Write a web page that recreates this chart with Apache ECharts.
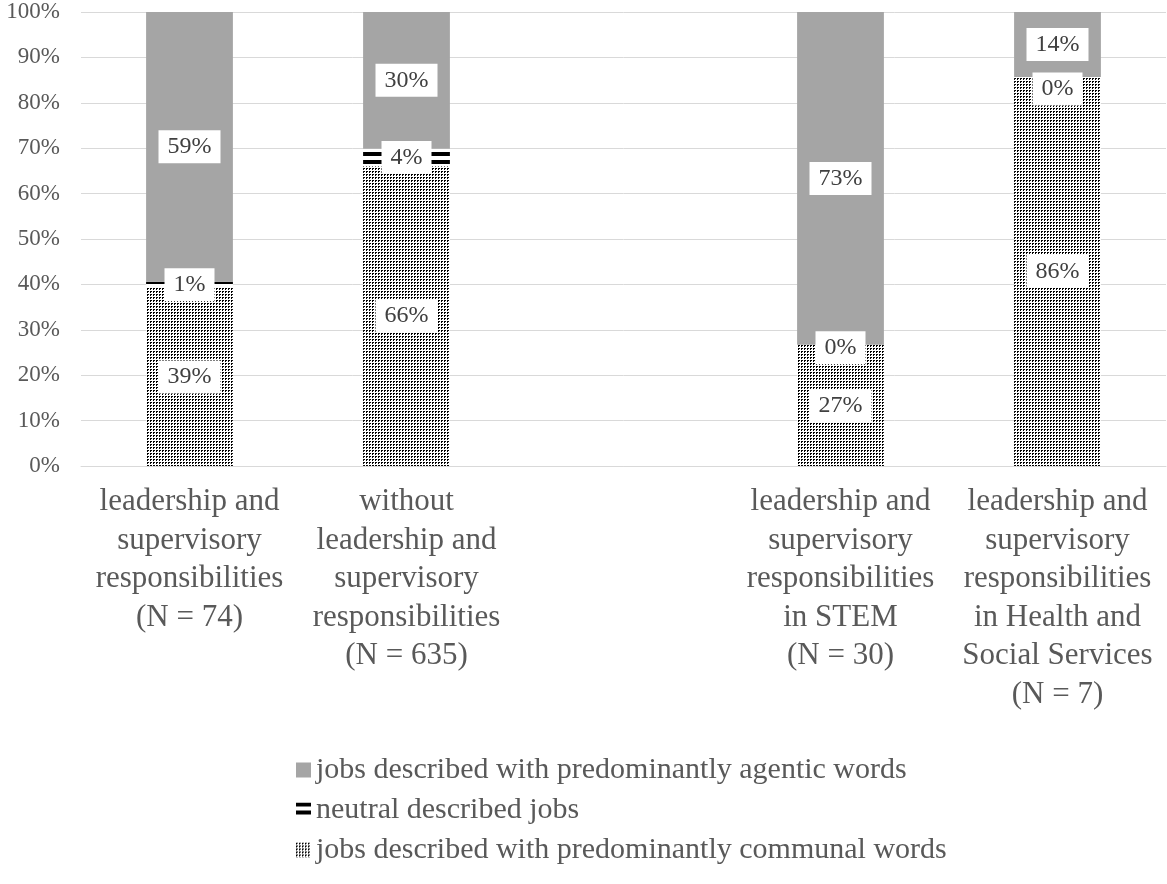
<!DOCTYPE html>
<html>
<head>
<meta charset="utf-8">
<script src="https://cdn.jsdelivr.net/npm/echarts@6/dist/echarts.min.js"></script>
<style>
html,body{margin:0;padding:0;background:#fff;}
#chart{width:1167px;height:884px;}
</style>
</head>
<body>
<div id="chart"></div>
<script>
var categories = [
  "leadership and\nsupervisory\nresponsibilities\n(N = 74)",
  "without\nleadership and\nsupervisory\nresponsibilities\n(N = 635)",
  "",
  "leadership and\nsupervisory\nresponsibilities\nin STEM\n(N = 30)",
  "leadership and\nsupervisory\nresponsibilities\nin Health and\nSocial Services\n(N = 7)"
];
var communal = [39.2, 66.0, '-', 26.7, 85.7];
var neutral  = [1.4, 3.9, '-', 0, 0];
var agentic  = [59.4, 30.1, '-', 73.3, 14.3];
var seriesNames = [
  "jobs described with predominantly communal words",
  "neutral described jobs",
  "jobs described with predominantly agentic words"
];
var yTicks = [0, 100, 10];

function makeDots() {
  var c = document.createElement('canvas');
  c.width = 3; c.height = 3;
  var g = c.getContext('2d');
  g.fillStyle = '#fff'; g.fillRect(0, 0, 3, 3);
  g.fillStyle = '#000'; g.fillRect(0, 0, 2, 1); g.fillRect(0, 1, 1, 1);
  return { image: c, repeat: 'repeat' };
}
function makeStripes() {
  var c = document.createElement('canvas');
  c.width = 8; c.height = 8;
  var g = c.getContext('2d');
  g.fillStyle = '#fff'; g.fillRect(0, 0, 8, 8);
  g.fillStyle = '#000'; g.fillRect(0, 0, 8, 4);
  return { image: c, repeat: 'repeat' };
}

var font = 'Liberation Serif';
var labelBase = {
  show: true,
  position: 'inside',
  fontFamily: font,
  fontSize: 24,
  color: '#404040',
  backgroundColor: '#fff',
  padding: [5, 9, 4, 9],
  formatter: function (p) { return Math.round(p.value) + '%'; }
};

function buildData(arr, offsets) {
  return arr.map(function (v, i) {
    if (offsets && offsets[i]) return { value: v, label: { offset: offsets[i] } };
    return v;
  });
}

var chart = echarts.init(document.getElementById('chart'), null, { renderer: 'canvas' });
chart.setOption({
  animation: false,
  backgroundColor: '#fff',
  grid: { left: 81, right: 1, top: 12, bottom: 418, containLabel: false },
  legend: {
    orient: 'vertical',
    left: 296,
    top: 755,
    padding: 0,
    icon: 'rect',
    itemWidth: 15,
    itemHeight: 15,
    itemGap: 10,
    data: [seriesNames[2], seriesNames[1], seriesNames[0]],
    textStyle: { fontFamily: font, fontSize: 30, color: '#595959', lineHeight: 30 }
  },
  xAxis: {
    type: 'category',
    data: categories,
    axisLine: { show: true, lineStyle: { color: '#d9d9d9' } },
    axisTick: { show: false },
    axisLabel: {
      interval: 0, margin: 17,
      fontFamily: font, fontSize: 31, lineHeight: 38.5, color: '#595959'
    }
  },
  yAxis: {
    type: 'value',
    min: yTicks[0], max: yTicks[1], interval: yTicks[2],
    axisLine: { show: false },
    axisTick: { show: false },
    splitLine: { lineStyle: { color: '#d9d9d9', width: 1 } },
    axisLabel: {
      formatter: '{value}%', margin: 21,
      fontFamily: font, fontSize: 23, color: '#595959'
    }
  },
  series: [
    {
      name: seriesNames[0], type: 'bar', stack: 's', barCategoryGap: '60%',
      data: buildData(communal),
      itemStyle: { color: makeDots() },
      label: labelBase
    },
    {
      name: seriesNames[1], type: 'bar', stack: 's', barCategoryGap: '60%',
      data: buildData(neutral, [null, null, null, [0, 3], [0, 12]]),
      itemStyle: { color: makeStripes() },
      label: labelBase
    },
    {
      name: seriesNames[2], type: 'bar', stack: 's', barCategoryGap: '60%',
      data: buildData(agentic),
      itemStyle: { color: '#a5a5a5' },
      label: labelBase
    }
  ]
});
</script>
</body>
</html>
